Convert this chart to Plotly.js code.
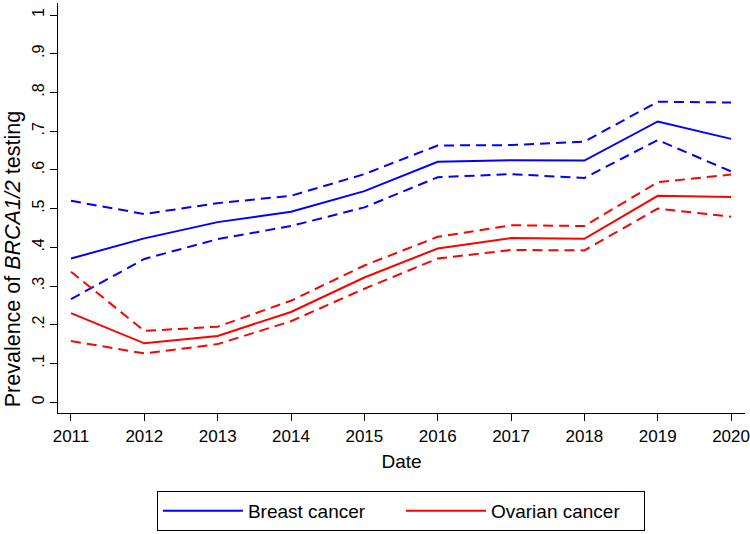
<!DOCTYPE html>
<html>
<head>
<meta charset="utf-8">
<script src="https://cdn.plot.ly/plotly-3.0.1.min.js"></script>
<style>html,body{margin:0;padding:0;background:#fff;}#chart{width:750px;height:534px;}</style>
</head>
<body>
<div id="chart"></div>
<script>
const years = [2011, 2012, 2013, 2014, 2015, 2016, 2017, 2018, 2019, 2020];
const breastMean  = [0.371, 0.423, 0.465, 0.492, 0.545, 0.621, 0.625, 0.624, 0.725, 0.680];
const breastUpper = [0.520, 0.486, 0.514, 0.533, 0.589, 0.663, 0.664, 0.673, 0.776, 0.774];
const breastLower = [0.266, 0.370, 0.421, 0.455, 0.503, 0.581, 0.589, 0.579, 0.677, 0.596];
const ovarianMean  = [0.230, 0.152, 0.171, 0.233, 0.322, 0.397, 0.424, 0.422, 0.533, 0.530];
const ovarianUpper = [0.337, 0.184, 0.195, 0.262, 0.353, 0.427, 0.457, 0.455, 0.568, 0.588];
const ovarianLower = [0.158, 0.126, 0.150, 0.209, 0.293, 0.371, 0.393, 0.392, 0.500, 0.479];
const yTickVals = [0, 0.1, 0.2, 0.3, 0.4, 0.5, 0.6, 0.7, 0.8, 0.9, 1];
const yTickText = ['0', '.1', '.2', '.3', '.4', '.5', '.6', '.7', '.8', '.9', '1'];
const yTitle = 'Prevalence of <i>BRCA1/2</i> testing';
const xTitle = 'Date';

const BLUE = '#0000ff', RED = '#ff0000';
function tr(y, color, dash, name, show) {
  return {x: years, y: y, type: 'scatter', mode: 'lines', name: name,
    showlegend: show, line: {color: color, width: 2, dash: dash}, hoverinfo: 'skip'};
}
const data = [
  tr(breastMean, BLUE, 'solid', 'Breast cancer', true),
  tr(ovarianMean, RED, 'solid', 'Ovarian cancer', true),
  tr(breastUpper, BLUE, '10px,6px', 'bu', false),
  tr(breastLower, BLUE, '10px,6px', 'bl', false),
  tr(ovarianUpper, RED, '10px,6px', 'ou', false),
  tr(ovarianLower, RED, '10px,6px', 'ol', false)
];
const FONT = 'Liberation Sans, Arial, sans-serif';
const layout = {
  width: 750, height: 534,
  margin: {l: 58, r: 5, t: 3, b: 116},
  paper_bgcolor: '#fff', plot_bgcolor: '#fff',
  font: {family: FONT, color: '#000', size: 16},
  xaxis: {
    range: [2010.823, 2020.19], tickvals: years, ticktext: years.map(String),
    showgrid: false, zeroline: false, showline: true, linecolor: '#000', linewidth: 1,
    ticks: 'outside', ticklen: 7, tickcolor: '#000', tickfont: {size: 17},
    ticklabelstandoff: 1, automargin: false,
    title: {text: xTitle, font: {size: 19}, standoff: 9}
  },
  yaxis: {
    range: [-0.028, 1.031], tickvals: yTickVals, ticktext: yTickText, tickangle: -90,
    showgrid: false, zeroline: false, showline: true, linecolor: '#000', linewidth: 1,
    ticks: 'outside', ticklen: 7, tickcolor: '#000', tickfont: {size: 16}, automargin: false
  },
  annotations: [{
    text: yTitle, xref: 'paper', yref: 'paper', x: -0.0655, y: 0.375,
    xanchor: 'center', yanchor: 'middle', textangle: -90, showarrow: false,
    font: {size: 21.5, family: FONT, color: '#000'}
  }],
  showlegend: true,
  legend: {
    orientation: 'h', x: 0.144, xanchor: 'left', y: -0.19, yanchor: 'top',
    bordercolor: '#000', borderwidth: 1, font: {size: 19}, itemwidth: 80,
    entrywidth: 148, entrywidthmode: 'pixels',
    bgcolor: '#fff', tracegroupgap: 0
  }
};
Plotly.newPlot('chart', data, layout, {displayModeBar: false, staticPlot: true});
</script>
</body>
</html>
